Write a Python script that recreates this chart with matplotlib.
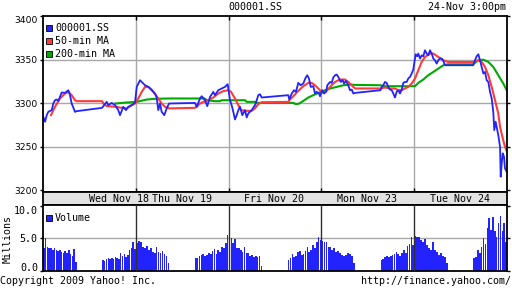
import numpy as np
import matplotlib.pyplot as plt
from matplotlib.patches import Rectangle

# x is in trading days since Wed Nov 18 open (each day 9:30-15:00, lunch 11:30-13:00)
t_px = [0.003, 0.022, 0.040, 0.057, 0.094, 0.111, 0.129, 0.148, 0.165, 0.202, 0.237, 0.273,
        0.291, 0.309, 0.345, 0.361, 0.636, 0.686, 0.704, 0.740, 0.776, 0.811, 0.830, 0.865,
        0.894, 0.919, 0.956, 0.991,
        1.010, 1.045, 1.064, 1.099, 1.135, 1.171, 1.207, 1.225, 1.242, 1.261, 1.279, 1.307,
        1.333, 1.358, 1.638, 1.656, 1.692, 1.710, 1.746, 1.770, 1.800, 1.835, 1.853, 1.889,
        1.926, 1.961, 1.990,
        2.015, 2.033, 2.051, 2.069, 2.087, 2.105, 2.123, 2.148, 2.177, 2.195, 2.212, 2.249,
        2.284, 2.303, 2.320, 2.338, 2.357, 2.643, 2.654, 2.680, 2.705, 2.726, 2.751, 2.777,
        2.805, 2.831, 2.848, 2.866, 2.885, 2.913, 2.931, 2.949, 2.974, 2.985,
        3.010, 3.028, 3.050, 3.064, 3.093, 3.111, 3.128, 3.147, 3.165, 3.182, 3.208, 3.230,
        3.244, 3.265, 3.290, 3.308, 3.327, 3.344, 3.362, 3.636, 3.650, 3.667, 3.685, 3.703,
        3.721, 3.739, 3.758, 3.775, 3.793, 3.811, 3.829, 3.847, 3.865, 3.883, 3.901, 3.919,
        3.936, 3.955, 3.973, 3.990,
        4.016, 4.033, 4.044, 4.063, 4.081, 4.098, 4.116, 4.135, 4.152, 4.170, 4.189, 4.206,
        4.224, 4.242, 4.260, 4.278, 4.296, 4.314, 4.332, 4.360, 4.636, 4.655, 4.673, 4.691,
        4.709, 4.727, 4.745, 4.763, 4.781, 4.799, 4.817, 4.835, 4.852, 4.863, 4.878, 4.889,
        4.906, 4.925, 4.932, 4.943, 4.954, 4.968, 4.978, 4.997]
px = [3284.3, 3278.6, 3286.2, 3290.0, 3292.0, 3299.6, 3303.4, 3304.2, 3302.6, 3312.3, 3311.8, 3314.9,
      3309.2, 3299.6, 3290.0, 3290.8, 3294.6, 3301.5, 3297.7, 3300.3, 3297.7, 3292.0, 3286.2, 3295.8,
      3292.0, 3295.8, 3297.7, 3300.3,
      3318.7, 3326.4, 3324.4, 3320.6, 3318.7, 3314.9, 3311.1, 3306.5, 3292.0, 3299.6, 3290.0, 3286.2,
      3294.0, 3299.6, 3300.3, 3295.8, 3305.4, 3308.0, 3303.4, 3296.6, 3307.2, 3313.0, 3309.2, 3314.9,
      3316.9, 3318.7, 3321.8,
      3303.4, 3297.7, 3290.0, 3281.3, 3286.2, 3292.0, 3295.8, 3286.2, 3292.0, 3283.6, 3288.2, 3292.0,
      3297.7, 3303.4, 3309.2, 3310.3, 3306.5, 3309.2, 3304.2, 3311.1, 3314.9, 3313.0, 3323.3, 3320.6,
      3322.6, 3329.5, 3332.1, 3328.3, 3318.7, 3319.5, 3311.1, 3313.0, 3311.1, 3308.0,
      3314.9, 3311.1, 3313.0, 3320.6, 3324.4, 3323.3, 3329.5, 3332.1, 3332.9, 3330.2, 3324.4, 3326.4,
      3322.6, 3325.6, 3320.6, 3314.9, 3315.7, 3311.1, 3311.8, 3314.9, 3318.7, 3320.6, 3324.4, 3323.3,
      3318.7, 3315.7, 3314.9, 3311.1, 3306.5, 3313.0, 3314.9, 3311.1, 3315.7, 3323.3, 3324.4, 3324.4,
      3328.3, 3330.2, 3334.1, 3338.6,
      3356.2, 3353.9, 3357.0, 3351.3, 3355.0, 3353.9, 3360.8, 3357.0, 3355.0, 3360.8, 3357.0, 3351.3,
      3349.3, 3345.5, 3349.3, 3351.3, 3351.3, 3348.5, 3343.6, 3343.6, 3343.6, 3349.3, 3353.9, 3356.2,
      3349.3, 3341.6, 3334.1, 3335.9, 3326.4, 3324.4, 3313.0, 3305.4, 3290.0, 3269.0, 3278.6, 3272.8,
      3263.3, 3249.9, 3215.5, 3230.9, 3242.3, 3238.4, 3225.1, 3221.2]

t_ma50 = [0.086, 0.129, 0.183, 0.237, 0.273, 0.309, 0.345, 0.363, 0.636, 0.650, 0.686, 0.794,
          0.830, 0.902, 0.956, 0.991,
          1.027, 1.064, 1.099, 1.135, 1.171, 1.207, 1.242, 1.279, 1.315, 1.358, 1.636, 1.656,
          1.692, 1.727, 1.781, 1.835, 1.889, 1.943, 1.997,
          2.026, 2.069, 2.105, 2.134, 2.177, 2.249, 2.284, 2.320, 2.357, 2.643, 2.662, 2.697,
          2.751, 2.805, 2.859, 2.895, 2.931, 2.985,
          3.020, 3.057, 3.093, 3.147, 3.200, 3.254, 3.290, 3.344, 3.364, 3.636, 3.685, 3.739,
          3.793, 3.829, 3.865, 3.901, 3.936, 3.973, 4.009,
          4.044, 4.081, 4.116, 4.170, 4.206, 4.260, 4.314, 4.364, 4.636, 4.691, 4.727, 4.763,
          4.799, 4.835, 4.871, 4.906, 4.925, 4.950, 4.978, 4.997]
ma50 = [3286.2, 3295.8, 3305.4, 3311.1, 3313.0, 3309.2, 3303.4, 3302.3, 3302.3, 3299.6, 3296.6, 3295.8,
        3294.9, 3294.0, 3297.7, 3299.6,
        3305.4, 3313.0, 3318.7, 3318.7, 3315.7, 3310.5, 3305.4, 3299.6, 3295.8, 3294.0, 3294.6, 3295.8,
        3299.6, 3301.5, 3303.4, 3306.5, 3311.1, 3313.8, 3314.9,
        3313.0, 3305.4, 3297.7, 3292.0, 3291.2, 3291.2, 3294.0, 3298.9, 3301.1, 3301.5, 3304.2, 3308.0,
        3314.1, 3319.5, 3323.3, 3323.3, 3320.6, 3314.9,
        3311.8, 3314.1, 3318.7, 3324.4, 3327.2, 3327.2, 3324.4, 3318.7, 3316.9, 3316.9, 3318.0, 3316.9,
        3316.9, 3314.9, 3314.9, 3316.9, 3318.7, 3322.6, 3328.3,
        3337.8, 3347.4, 3353.1, 3357.0, 3357.0, 3353.1, 3349.3, 3347.4, 3347.4, 3349.3, 3347.4, 3341.6,
        3332.1, 3318.7, 3303.4, 3288.2, 3272.8, 3261.4, 3249.9, 3245.0]

t_ma200 = [0.780, 0.902, 1.010, 1.117, 1.207, 1.347, 1.636, 1.740, 1.767, 1.853, 1.907, 1.926,
           2.177, 2.195, 2.284, 2.303, 2.643, 2.697, 2.726, 2.759, 2.805, 2.859, 2.913, 2.967,
           3.020, 3.093, 3.165, 3.236, 3.308, 3.364, 3.636, 3.685, 4.009, 4.044, 4.098, 4.152,
           4.206, 4.260, 4.314, 4.364, 4.636, 4.691, 4.745, 4.799, 4.852, 4.906, 4.960, 4.997]
ma200 = [3299.6, 3300.8, 3301.5, 3304.2, 3305.0, 3305.4, 3305.4, 3305.4, 3303.4, 3302.3, 3302.3, 3303.4,
         3303.4, 3301.5, 3301.5, 3300.3, 3300.3, 3300.3, 3298.9, 3299.5, 3302.6, 3306.5, 3309.2, 3311.8,
         3314.1, 3316.9, 3318.7, 3320.6, 3321.4, 3321.0, 3320.6, 3319.5, 3319.5, 3323.3, 3327.2, 3332.1,
         3335.9, 3339.8, 3343.6, 3344.7, 3344.7, 3349.3, 3350.0, 3347.4, 3341.6, 3332.1, 3322.6, 3314.9]

days = ['Wed Nov 18', 'Thu Nov 19', 'Fri Nov 20', 'Mon Nov 23', 'Tue Nov 24']

# volume in millions, morning and afternoon sessions of each day
vol_am = [
    [3.46, 5.0, 3.71, 3.46, 3.46, 3.2, 3.46, 3.2, 3.09, 3.2, 2.94, 2.78, 3.09, 2.68, 3.2, 2.58, 2.27, 3.3, 1.39],
    [4.33, 4.59, 4.48, 3.71, 3.46, 3.82, 3.2, 3.46, 2.94, 2.78, 3.71, 2.94, 2.68, 3.04, 2.58, 2.27, 1.24],
    [5.15, 5.0, 4.23, 4.84, 3.46, 3.46, 3.2, 2.94, 3.61, 2.78, 2.68, 2.27, 2.42, 2.16, 2.27, 2.16, 2.27, 0.73],
    [4.64, 4.48, 4.48, 3.71, 3.61, 3.2, 3.46, 2.94, 3.09, 2.78, 2.42, 2.27, 2.42, 2.78, 2.58, 2.27, 1.24],
    [5.36, 5.15, 5.15, 4.74, 4.48, 4.84, 3.97, 3.46, 3.2, 4.48, 3.2, 2.94, 2.42, 2.68, 2.27, 2.16, 1.13],
]
vol_pm = [
    [1.65, 1.55, 1.75, 1.91, 1.75, 1.91, 1.81, 2.16, 1.91, 1.75, 2.68, 2.27, 2.58, 2.06, 2.42, 3.2, 3.46, 4.48, 3.3],
    [1.91, 2.01, 2.27, 2.42, 2.58, 2.27, 2.48, 2.78, 2.58, 3.09, 3.3, 2.58, 3.2, 2.94, 3.71, 3.46, 4.33, 5.51],
    [1.65, 1.91, 2.58, 2.16, 2.27, 2.94, 3.09, 2.42, 2.58, 3.09, 3.71, 2.94, 3.2, 3.97, 3.46, 4.48, 5.25, 4.74],
    [1.65, 1.81, 2.16, 2.27, 2.16, 2.27, 2.42, 2.58, 2.94, 2.58, 2.27, 2.78, 3.2, 2.68, 3.82, 4.12, 5.15, 3.97],
    [1.91, 2.16, 3.2, 2.78, 3.71, 5.0, 4.12, 6.54, 8.09, 6.28, 8.24, 6.03, 5.25, 7.3, 8.44, 6.03, 7.3, 4.48],
]

BLUE = '#2323ff'
RED = '#ff3a3a'
GREEN = '#00aa00'
GRID = '#a8a8a8'
mono = 'DejaVu Sans Mono'
fs = 7.2

W, H = 512, 288
fig = plt.figure(figsize=(W / 100, H / 100), dpi=100)
L, R = 43, 507

ax = fig.add_axes([L / W, 1 - 192 / H, (R - L) / W, 176 / H])
band = fig.add_axes([L / W, 1 - 205 / H, (R - L) / W, 13 / H])
axv = fig.add_axes([L / W, 1 - 270.7 / H, (R - L) / W, 65.7 / H])

# price panel
for y in [3250, 3300, 3350]:
    ax.axhline(y, color=GRID, lw=1, zorder=0)
for d in range(1, 5):
    ax.axvline(d, color=GRID, lw=1, zorder=0)
ax.plot(t_ma200, ma200, color=GREEN, lw=1.5)
ax.plot(t_ma50, ma50, color=RED, lw=1.5)
ax.plot(t_px, px, color=BLUE, lw=1.3)
ax.set_xlim(0, 5)
ax.set_ylim(3197.9, 3400.2)
ax.set_yticks([3200, 3250, 3300, 3350, 3400])
ax.set_xticks([1, 2, 3, 4])
ax.set_xticklabels([])
ax.tick_params(axis='x', direction='in', length=3, width=1, top=True, bottom=True)
ax.tick_params(axis='y', direction='out', length=2.5, width=1, labelsize=6.6, pad=1.5,
               right=True)
ax.yaxis.get_ticklabels()[-1].set_va('top')
for s in ax.spines.values():
    s.set_linewidth(1.3)

legend = [('000001.SS', BLUE), ('50-min MA', RED), ('200-min MA', GREEN)]
for i, (name, c) in enumerate(legend):
    yc = 28.3 + i * 13
    fig.patches.append(Rectangle((46 / W, 1 - (yc + 3) / H), 6 / W, 6 / H, transform=fig.transFigure,
                                 facecolor=c, edgecolor='black', lw=0.6))
    fig.text(55 / W, 1 - yc / H, name, family=mono, fontsize=fs, va='center', ha='left')

# date band
band.set_facecolor('#e3e3e3')
band.set_xlim(0, 5)
band.set_ylim(0, 1)
band.set_xticks([])
band.set_yticks([])
for s in band.spines.values():
    s.set_linewidth(1.3)
lab_x = [0.82, 1.5, 2.485, 3.495, 4.495]
for x, name in zip(lab_x, days):
    band.text(x, 0.45, name, family=mono, fontsize=fs, ha='center', va='center')

# volume panel
axv.axhline(5, color=GRID, lw=1, zorder=0)
for d in range(1, 5):
    axv.axvline(d, color='#303030', lw=1, zorder=3)
am_end = 120 / 330
pm_start = 210 / 330
for d in range(5):
    for seg, a, b in [(vol_am[d], d, d + am_end), (vol_pm[d], d + pm_start, d + 1)]:
        n = len(seg)
        step = (b - a) / n
        xs = np.linspace(a + step / 2, b - step / 2, n)
        axv.bar(xs, seg, width=step * 0.85, color=BLUE, lw=0)
axv.set_xlim(0, 5)
axv.set_ylim(0, 10.1)
axv.set_yticks([0, 5, 10])
axv.set_yticklabels(['', '5.0', '10.0'], family=mono, fontsize=fs)
axv.yaxis.get_ticklabels()[-1].set_va('top')
axv.set_xticks([])
axv.tick_params(axis='y', direction='out', length=2.5, width=1, pad=1.5, right=True)
for s in axv.spines.values():
    s.set_linewidth(1.3)
fig.text(38.5 / W, 1 - 268.3 / H, '0.0', family=mono, fontsize=fs, ha='right', va='center')
fig.patches.append(Rectangle((46 / W, 1 - 221.3 / H), 6 / W, 6 / H, transform=fig.transFigure,
                             facecolor=BLUE, edgecolor='black', lw=0.6))
fig.text(55 / W, 1 - 218.3 / H, 'Volume', family=mono, fontsize=fs, va='center', ha='left')

fig.text(7.5 / W, 1 - 239 / H, 'Millions', family=mono, fontsize=fs, rotation=90,
         ha='center', va='center')
fig.text(255 / W, 1 - 7 / H, '000001.SS', family=mono, fontsize=fs, ha='center', va='center')
fig.text(506 / W, 1 - 7 / H, '24-Nov 3:00pm', family=mono, fontsize=fs, ha='right', va='center')
fig.text(0, 1 - 280.5 / H, 'Copyright 2009 Yahoo! Inc.', family=mono, fontsize=fs,
         ha='left', va='center')
fig.text(511 / W, 1 - 280.5 / H, 'http://finance.yahoo.com/', family=mono, fontsize=fs,
         ha='right', va='center')

fig.savefig('out.png', dpi=100)
